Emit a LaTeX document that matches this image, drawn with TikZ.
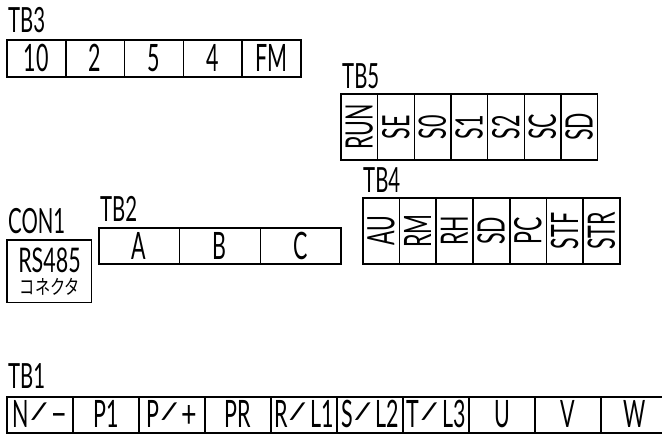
\documentclass[tikz,border=0pt]{standalone}
\usepackage{fontspec}
\setmainfont{Lato}
\newfontfamily\cjkf{Noto Sans CJK JP}
\newcommand{\cadtext}[1]{\scalebox{.58}[1.02]{\fontsize{37}{37}\selectfont #1}}
\newcommand{\sla}{\kern1pt\raisebox{8pt}{\scalebox{1.9}[.6]{/}}\kern6pt}
\newcommand{\wid}[1]{\scalebox{1.25}[1]{#1}}
\tikzset{
  cellbox/.style={draw=black,line width=1.6pt,inner sep=0pt,anchor=center,fill=none,
    text height=26.5pt,text depth=0pt},
  title/.style={inner sep=0pt,anchor=south west,text height=24pt,text depth=0pt},
}
\begin{document}
\begin{tikzpicture}[x=1pt,y=-1pt]
\path[use as bounding box,clip] (0,0) rectangle (662,434);
\fill[white] (0,0) rectangle (662,434);
% TB3
\node[title] (t3) at (8,33) {\scalebox{.95}[.92]{\cadtext{TB3}}};
\foreach \t [count=\i] in {10,2,5,4,FM}{
  \pgfmathsetmacro{\cx}{7+58.8*(\i-.5)}
  \node[cellbox,minimum width=58.8pt,minimum height=37pt] (tb3-\i) at (\cx,58.5) {\cadtext{\t}};
}
% TB5
\node[title] (t5) at (342,89) {\scalebox{.95}[.92]{\cadtext{TB5}}};
\foreach \t [count=\i] in {RUN,SE,S0,S1,S2,SC,SD}{
  \pgfmathsetmacro{\cx}{341+36.67*(\i-.5)}
  \node[cellbox,rotate=90,minimum width=66pt,minimum height=36.67pt] (tb5-\i) at (\cx,127) {\cadtext{\t}};
}
% TB4
\node[title] (t4) at (363,193) {\scalebox{.95}[.92]{\cadtext{TB4}}};
\foreach \t [count=\i] in {AU,RM,RH,SD,PC,STF,STR}{
  \pgfmathsetmacro{\cx}{362.7+36.76*(\i-.5)}
  \node[cellbox,rotate=90,minimum width=66pt,minimum height=36.76pt] (tb4-\i) at (\cx,231) {\cadtext{\t}};
}
% TB2
\node[title] (t2) at (100,222) {\scalebox{.95}[.92]{\cadtext{TB2}}};
\foreach \t [count=\i] in {A,B,C}{
  \pgfmathsetmacro{\cx}{98.7+80.8*(\i-.5)}
  \node[cellbox,minimum width=80.8pt,minimum height=36.5pt] (tb2-\i) at (\cx,246) {\cadtext{\t}};
}
% CON1
\node[title] (c1) at (8,234) {\scalebox{.95}[.92]{\cadtext{CON1}}};
\node[draw=black,line width=1.6pt,minimum width=84.7pt,minimum height=62.7pt,inner sep=0pt] (con1) at (49.3,271.3) {};
\node[inner sep=0pt,text height=24pt,text depth=0pt] (rs) at (49.5,260) {\scalebox{1}[.9]{\cadtext{RS485}}};
\node[inner sep=0pt,text height=17pt,text depth=0pt] (kana) at (50,285.5) {\cjkf\fontsize{20}{20}\selectfont\scalebox{.76}[1]{コネクタ}};
% TB1
\node[title] (t1) at (8,389) {\scalebox{.95}[.92]{\cadtext{TB1}}};
\foreach \t [count=\i] in {N\sla\wid{−},P1,P\sla\wid{+},PR,R\sla L1,S\sla L2,T\sla L3,U,V,W}{
  \pgfmathsetmacro{\cx}{7+66.03*(\i-.5)}
  \node[cellbox,minimum width=66.03pt,minimum height=36pt] (tb1-\i) at (\cx,414.7) {\cadtext{\t}};
}
\end{tikzpicture}
\end{document}
